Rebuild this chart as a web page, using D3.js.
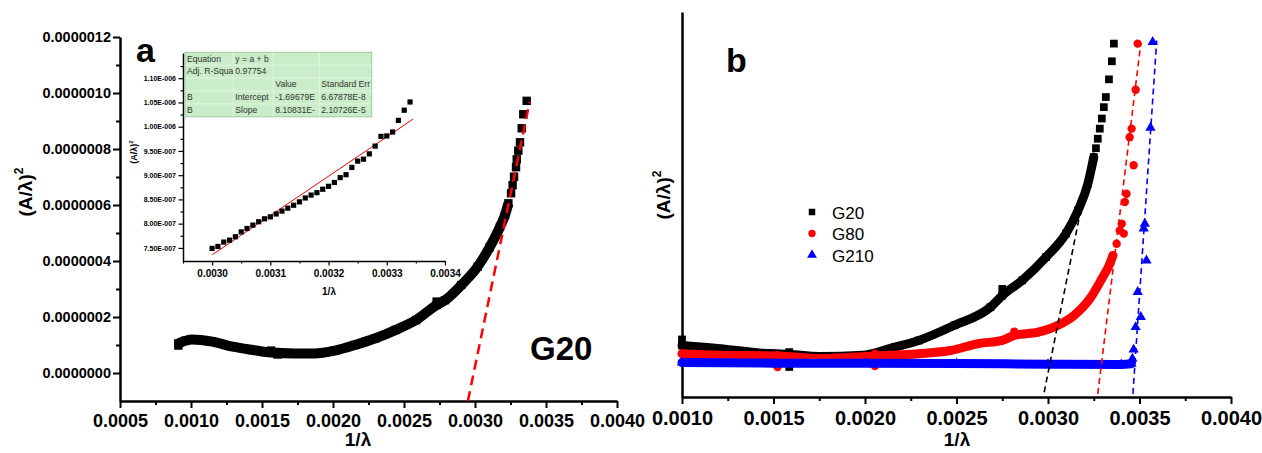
<!DOCTYPE html>
<html>
<head>
<meta charset="utf-8">
<script src="https://cdn.jsdelivr.net/npm/d3@7"></script>
<style>
  body { margin: 0; background: #fff; }
  svg text { font-family: "Liberation Sans", Arial, sans-serif; }
</style>
</head>
<body>
<div id="d3-container"></div>
<script>
/**
 * CONSTANTS AND GLOBALS
 * */
const width = 1262,
  height = 453;

/** panel a: G20, main curve (1/λ, (A/λ)^2) */
const aBand = [
  [0.000911, 1.06e-7], [0.000960, 1.15e-7], [0.001005, 1.20e-7], [0.00115, 1.12e-7],
  [0.001293, 0.94e-7], [0.001437, 0.82e-7], [0.001564, 0.73e-7], [0.001725, 0.70e-7],
  [0.001868, 0.70e-7], [0.002012, 0.80e-7], [0.002155, 1.00e-7], [0.002299, 1.24e-7],
  [0.002443, 1.54e-7], [0.002585, 1.89e-7], [0.00273, 2.43e-7], [0.002789, 2.60e-7],
  [0.002903, 3.14e-7], [0.003019, 3.80e-7], [0.003104, 4.50e-7], [0.003176, 5.22e-7],
  [0.003211, 5.64e-7], [0.003235, 6.06e-7]
];
const aTail = [
  [0.003254, 6.42e-7], [0.003265, 6.71e-7], [0.003275, 7.01e-7], [0.003289, 7.35e-7],
  [0.003294, 7.63e-7], [0.003305, 7.94e-7], [0.003317, 8.24e-7], [0.003329, 8.74e-7],
  [0.003340, 9.24e-7], [0.003364, 9.72e-7], [0.001564, 0.80e-7], [0.00161, 0.66e-7],
  [0.000911, 0.98e-7], [0.00273, 2.55e-7]
];
const aFitLine = [[0.00295, -1.0e-7], [0.003385, 9.69e-7]];
const aXTicks = [0.0005, 0.0010, 0.0015, 0.0020, 0.0025, 0.0030, 0.0035, 0.0040];
const aXMinor = [0.00075, 0.00125, 0.00175, 0.00225, 0.00275, 0.00325, 0.00375];
const aYTicks = [0, 0.0000002, 0.0000004, 0.0000006, 0.0000008, 0.0000010, 0.0000012];
const aYMinor = [0.0000001, 0.0000003, 0.0000005, 0.0000007, 0.0000009, 0.0000011];

/** inset of panel a: linear fit region */
const insetPts = [
  [0.00300, 7.49e-7], [0.00301, 7.53e-7], [0.00302, 7.62e-7], [0.00303, 7.66e-7],
  [0.00304, 7.73e-7], [0.00305, 7.83e-7], [0.00306, 7.90e-7], [0.00307, 7.97e-7],
  [0.00308, 8.04e-7], [0.00309, 8.10e-7], [0.00310, 8.14e-7], [0.00311, 8.20e-7],
  [0.00312, 8.26e-7], [0.00313, 8.32e-7], [0.00314, 8.38e-7], [0.00315, 8.45e-7],
  [0.00316, 8.53e-7], [0.00317, 8.59e-7], [0.00318, 8.64e-7], [0.00319, 8.71e-7],
  [0.00320, 8.77e-7], [0.00321, 8.85e-7], [0.00322, 8.95e-7], [0.00323, 9.01e-7],
  [0.00324, 9.16e-7], [0.00325, 9.29e-7], [0.00326, 9.33e-7], [0.00327, 9.44e-7],
  [0.00328, 9.60e-7], [0.00329, 9.80e-7], [0.00330, 9.81e-7], [0.00331, 9.89e-7],
  [0.00332, 10.13e-7], [0.00333, 10.34e-7], [0.00334, 10.51e-7]
];
const fitIntercept = -1.69679e-6,
  fitSlope = 8.10831e-4,
  fitRange = [0.00300, 0.003345];
const insetXTicks = [0.0030, 0.0031, 0.0032, 0.0033, 0.0034];
const insetXMinor = [0.00295, 0.00305, 0.00315, 0.00325, 0.00335];
const insetYTicks = [7.5e-7, 8.0e-7, 8.5e-7, 9.0e-7, 9.5e-7, 1.0e-6, 1.05e-6, 1.10e-6];
const insetYMinor = [7.75e-7, 8.25e-7, 8.75e-7, 9.25e-7, 9.75e-7, 1.025e-6, 1.075e-6, 1.125e-6];
const tableRows = [
  ["Equation", "y = a + b", "", ""],
  ["Adj. R-Squa", "0.97754", "", ""],
  ["", "", "Value", "Standard Err"],
  ["B", "Intercept", "-1.69679E", "6.67878E-8"],
  ["B", "Slope", "8.10831E-", "2.10726E-5"]
];

/** panel b: three samples, y in units of 1e-7 (axis unlabelled) */
const bG20Band = [
  [0.0010, 1.01], [0.001206, 0.91], [0.001423, 0.77], [0.001586, 0.73], [0.00175, 0.66],
  [0.001989, 0.70], [0.002163, 0.96], [0.002294, 1.17], [0.002489, 1.65], [0.002685, 2.22],
  [0.00275, 2.59], [0.002859, 3.07], [0.00299, 3.81], [0.003098, 4.55], [0.003164, 5.28],
  [0.003218, 6.13], [0.00325, 6.97]
];
const bG20Tail = [
  [0.003262, 7.25], [0.003272, 7.55], [0.003283, 7.87], [0.003294, 8.19], [0.003305, 8.55],
  [0.003316, 8.87], [0.003333, 9.43], [0.003349, 10.0], [0.00336, 10.56], [0.001586, 0.80],
  [0.001586, 0.33], [0.0010, 1.2], [0.00275, 2.80]
];
const bG80Band = [
  [0.0010, 0.75], [0.001206, 0.70], [0.001522, 0.68], [0.00175, 0.59], [0.002054, 0.68],
  [0.002294, 0.75], [0.002467, 0.85], [0.00262, 1.07], [0.00275, 1.17], [0.002816, 1.33],
  [0.002946, 1.43], [0.003055, 1.65], [0.003142, 1.96], [0.003229, 2.49], [0.003294, 3.12],
  [0.003338, 3.60], [0.003355, 3.86]
];
const bG80Tail = [
  [0.003375, 4.23], [0.003392, 4.65], [0.003403, 4.86], [0.003414, 4.55], [0.00342, 5.55],
  [0.003429, 5.81], [0.003446, 7.60], [0.003457, 7.87], [0.003468, 6.71], [0.003479, 9.10],
  [0.00349, 10.56], [0.001522, 0.70], [0.001522, 0.33], [0.002054, 0.75], [0.002054, 0.36],
  [0.002816, 1.45]
];
const bG210Band = [
  [0.0010, 0.47], [0.0015, 0.45], [0.0020, 0.45], [0.0025, 0.44], [0.0030, 0.42],
  [0.00340, 0.41], [0.003455, 0.43]
];
const bG210Tail = [
  [0.003461, 0.59], [0.003468, 0.88], [0.003479, 1.59], [0.003507, 1.91], [0.00349, 2.70],
  [0.003538, 3.70], [0.003523, 4.71], [0.003529, 4.86], [0.00356, 7.90], [0.003572, 10.61]
];
const bFits = [
  { color: "#000", pts: [[0.002979, -0.47], [0.003175, 5.18]] },
  { color: "#ff0000", pts: [[0.003272, -0.52], [0.003507, 10.56]] },
  { color: "#0000ff", pts: [[0.003464, -0.52], [0.003594, 10.66]] }
];
const bXTicks = [0.0010, 0.0015, 0.0020, 0.0025, 0.0030, 0.0035, 0.0040];
const bXMinor = [0.00125, 0.00175, 0.00225, 0.00275, 0.00325, 0.00375];
const legendNames = ["G20", "G80", "G210"];
const legendColors = ["#000", "#ff0000", "#0000ff"];
const legendSymbols = [d3.symbolSquare, d3.symbolCircle, d3.symbolTriangle];

let svg;

/**
 * small helper: style the axis group the way Origin draws it
 * */
function styleAxis(g, fontSize, lineW) {
  g.attr("font-family", null).attr("font-size", null);
  g.select(".domain").attr("stroke", "#000").attr("stroke-width", lineW);
  g.selectAll(".tick line").attr("stroke", "#000").attr("stroke-width", lineW * 0.8);
  g.selectAll(".tick text")
    .attr("fill", "#000")
    .attr("font-size", fontSize)
    .attr("font-weight", "bold");
}

function init() {
  svg = d3
    .select("#d3-container")
    .append("svg")
    .attr("width", width)
    .attr("height", height);

  drawPanelA();
  drawInset();
  drawPanelB();
}

/**
 * PANEL A
 * */
function drawPanelA() {
  const x = d3.scaleLinear().domain([0.0005, 0.0040]).range([120, 617]);
  const y = d3.scaleLinear().domain([-1e-7, 1.2e-6]).range([401, 37]);
  const g = svg.append("g");

  // minor ticks first
  g.append("g").attr("transform", "translate(0,401)")
    .call(d3.axisBottom(x).tickValues(aXMinor).tickSize(4).tickFormat("").tickSizeOuter(0))
    .call(a => styleAxis(a, 0, 2.5)).select(".domain").remove();
  g.append("g").attr("transform", "translate(120,0)")
    .call(d3.axisLeft(y).tickValues(aYMinor).tickSize(4).tickFormat("").tickSizeOuter(0))
    .call(a => styleAxis(a, 0, 2.5)).select(".domain").remove();

  g.append("g").attr("transform", "translate(0,401)")
    .call(d3.axisBottom(x).tickValues(aXTicks).tickSize(7).tickPadding(6)
      .tickFormat(d3.format(".4f")).tickSizeOuter(0))
    .call(a => styleAxis(a, 18, 2.5));
  g.append("g").attr("transform", "translate(120,0)")
    .call(d3.axisLeft(y).tickValues(aYTicks).tickSize(7).tickPadding(2)
      .tickFormat(d3.format(".7f")).tickSizeOuter(0))
    .call(a => styleAxis(a, 14.5, 2.5));

  // curve: dense part as a thick band, sparse tail as single squares
  const line = d3.line().x(d => x(d[0])).y(d => y(d[1])).curve(d3.curveMonotoneX);
  g.append("path")
    .datum(aBand)
    .attr("d", line)
    .attr("fill", "none")
    .attr("stroke", "#000")
    .attr("stroke-width", 10)
    .attr("stroke-linejoin", "round");
  g.selectAll("rect.pt")
    .data(aBand.concat(aTail))
    .join("rect")
    .attr("class", "pt")
    .attr("x", d => x(d[0]) - 4.2)
    .attr("y", d => y(d[1]) - 4.2)
    .attr("width", 8.4)
    .attr("height", 8.4)
    .attr("fill", "#000");

  g.append("path")
    .datum(aFitLine)
    .attr("d", d3.line().x(d => x(d[0])).y(d => y(d[1])))
    .attr("stroke", "#ff0000")
    .attr("stroke-width", 2.5)
    .attr("stroke-dasharray", "10,6");

  // titles
  g.append("text").attr("x", 358).attr("y", 446).attr("text-anchor", "middle")
    .attr("font-size", 19).attr("font-weight", "bold").text("1/λ");
  const yt = g.append("text").attr("transform", "translate(32,192) rotate(-90)")
    .attr("text-anchor", "middle").attr("font-size", 19).attr("font-weight", "bold");
  yt.append("tspan").text("(A/λ)");
  yt.append("tspan").attr("font-size", 12).attr("dy", -9).text("2");

  g.append("text").attr("x", 136).attr("y", 62).attr("font-size", 34)
    .attr("font-weight", "bold").text("a");
  g.append("text").attr("x", 530).attr("y", 360).attr("font-size", 33)
    .attr("font-weight", "bold").text("G20");
}

/**
 * INSET OF PANEL A
 * */
function drawInset() {
  const x = d3.scaleLinear().domain([0.00295, 0.0034]).range([183, 445]);
  const y = d3.scaleLinear().domain([7.23e-7, 1.152e-6]).range([261, 53]);
  const g = svg.append("g");
  const sci = d => {
    const e = Math.floor(Math.log10(d) + 1e-9);
    return (d / Math.pow(10, e)).toFixed(2) + "E-" + String(-e).padStart(3, "0");
  };

  g.append("g").attr("transform", "translate(0,261)")
    .call(d3.axisBottom(x).tickValues(insetXMinor).tickSize(2.5).tickFormat("").tickSizeOuter(0))
    .call(a => styleAxis(a, 0, 1.5)).select(".domain").remove();
  g.append("g").attr("transform", "translate(183,0)")
    .call(d3.axisLeft(y).tickValues(insetYMinor).tickSize(2.5).tickFormat("").tickSizeOuter(0))
    .call(a => styleAxis(a, 0, 1.5)).select(".domain").remove();
  g.append("g").attr("transform", "translate(0,261)")
    .call(d3.axisBottom(x).tickValues(insetXTicks).tickSize(4.5).tickPadding(4)
      .tickFormat(d3.format(".4f")).tickSizeOuter(0))
    .call(a => styleAxis(a, 10, 1.5));
  g.append("g").attr("transform", "translate(183,0)")
    .call(d3.axisLeft(y).tickValues(insetYTicks).tickSize(4.5).tickPadding(2.5)
      .tickFormat(sci).tickSizeOuter(0))
    .call(a => styleAxis(a, 7, 1.5));

  g.append("line")
    .attr("x1", x(fitRange[0])).attr("y1", y(fitIntercept + fitSlope * fitRange[0]))
    .attr("x2", x(fitRange[1])).attr("y2", y(fitIntercept + fitSlope * fitRange[1]))
    .attr("stroke", "#ff0000").attr("stroke-width", 1);

  g.selectAll("rect.ipt")
    .data(insetPts)
    .join("rect")
    .attr("class", "ipt")
    .attr("x", d => x(d[0]) - 2.6)
    .attr("y", d => y(d[1]) - 2.6)
    .attr("width", 5.2)
    .attr("height", 5.2)
    .attr("fill", "#000");

  g.append("text").attr("x", 329).attr("y", 295).attr("text-anchor", "middle")
    .attr("font-size", 10).attr("font-weight", "bold").text("1/λ");
  const yt = g.append("text").attr("transform", "translate(137,152) rotate(-90)")
    .attr("text-anchor", "middle").attr("font-size", 9).attr("font-weight", "bold");
  yt.append("tspan").text("(A/λ)");
  yt.append("tspan").attr("font-size", 6).attr("dy", -4).text("2");

  // fit table
  const cols = [0, 48.3, 88.3, 134.3, 186.7],
    rowH = 12.9;
  const t = g.append("g").attr("transform", "translate(185,52.3)");
  t.append("rect").attr("width", cols[4]).attr("height", rowH * tableRows.length)
    .attr("fill", "#c9ecc9").attr("stroke", "#9ccb9c").attr("stroke-width", 1);
  t.selectAll("line.r").data(d3.range(1, tableRows.length)).join("line")
    .attr("x1", 0).attr("x2", cols[4]).attr("y1", d => d * rowH).attr("y2", d => d * rowH)
    .attr("stroke", "#e2f6e2").attr("stroke-width", 1);
  t.selectAll("line.c").data(cols.slice(1, 4)).join("line")
    .attr("y1", 0).attr("y2", rowH * tableRows.length).attr("x1", d => d).attr("x2", d => d)
    .attr("stroke", "#e2f6e2").attr("stroke-width", 1);
  tableRows.forEach((row, i) => {
    row.forEach((cell, j) => {
      t.append("text").attr("x", cols[j] + 2).attr("y", i * rowH + 9.3)
        .attr("font-size", 8.6).attr("fill", "#333").text(cell);
    });
  });
}

/**
 * PANEL B
 * */
function drawPanelB() {
  const x = d3.scaleLinear().domain([0.0010, 0.0040]).range([682, 1231]);
  const y = d3.scaleLinear().domain([-0.62, 11.56]).range([397, 12]);
  const g = svg.append("g");

  g.append("g").attr("transform", "translate(0,397)")
    .call(d3.axisBottom(x).tickValues(bXMinor).tickSize(4).tickFormat("").tickSizeOuter(0))
    .call(a => styleAxis(a, 0, 2.5)).select(".domain").remove();
  g.append("g").attr("transform", "translate(0,397)")
    .call(d3.axisBottom(x).tickValues(bXTicks).tickSize(7).tickPadding(7)
      .tickFormat(d3.format(".4f")).tickSizeOuter(0))
    .call(a => styleAxis(a, 20, 2.5));
  g.append("g").attr("transform", "translate(682,0)")
    .call(d3.axisLeft(y).tickValues([]).tickSizeOuter(0))
    .call(a => styleAxis(a, 0, 2.5));

  const line = d3.line().x(d => x(d[0])).y(d => y(d[1])).curve(d3.curveMonotoneX);
  const series = [
    { band: bG20Band, tail: bG20Tail, color: legendColors[0], sym: legendSymbols[0], size: 60 },
    { band: bG80Band, tail: bG80Tail, color: legendColors[1], sym: legendSymbols[1], size: 55 },
    { band: bG210Band, tail: bG210Tail, color: legendColors[2], sym: legendSymbols[2], size: 46 }
  ];
  series.forEach(s => {
    g.append("path")
      .datum(s.band)
      .attr("d", line)
      .attr("fill", "none")
      .attr("stroke", s.color)
      .attr("stroke-width", 9)
      .attr("stroke-linecap", "round");
    g.append("g")
      .selectAll("path")
      .data(s.band.concat(s.tail))
      .join("path")
      .attr("transform", d => `translate(${x(d[0])},${y(d[1])})`)
      .attr("d", d3.symbol().type(s.sym).size(s.size))
      .attr("fill", s.color);
  });

  bFits.forEach(f => {
    g.append("path")
      .datum(f.pts)
      .attr("d", d3.line().x(d => x(d[0])).y(d => y(d[1])))
      .attr("stroke", f.color)
      .attr("stroke-width", 1.6)
      .attr("stroke-dasharray", "6,4");
  });

  // legend
  const lg = g.append("g").attr("transform", "translate(812,212)");
  legendNames.forEach((name, i) => {
    lg.append("path")
      .attr("transform", `translate(0,${i * 21.5})`)
      .attr("d", d3.symbol().type(legendSymbols[i]).size(42))
      .attr("fill", legendColors[i]);
    lg.append("text").attr("x", 20).attr("y", i * 21.5 + 6.5)
      .attr("font-size", 17).attr("fill", "#000").text(name);
  });

  g.append("text").attr("x", 957).attr("y", 446).attr("text-anchor", "middle")
    .attr("font-size", 19).attr("font-weight", "bold").text("1/λ");
  const yt = g.append("text").attr("transform", "translate(670,195) rotate(-90)")
    .attr("text-anchor", "middle").attr("font-size", 19).attr("font-weight", "bold");
  yt.append("tspan").text("(A/λ)");
  yt.append("tspan").attr("font-size", 12).attr("dy", -9).text("2");

  g.append("text").attr("x", 726).attr("y", 72).attr("font-size", 34)
    .attr("font-weight", "bold").text("b");
}

init();
</script>
</body>
</html>
